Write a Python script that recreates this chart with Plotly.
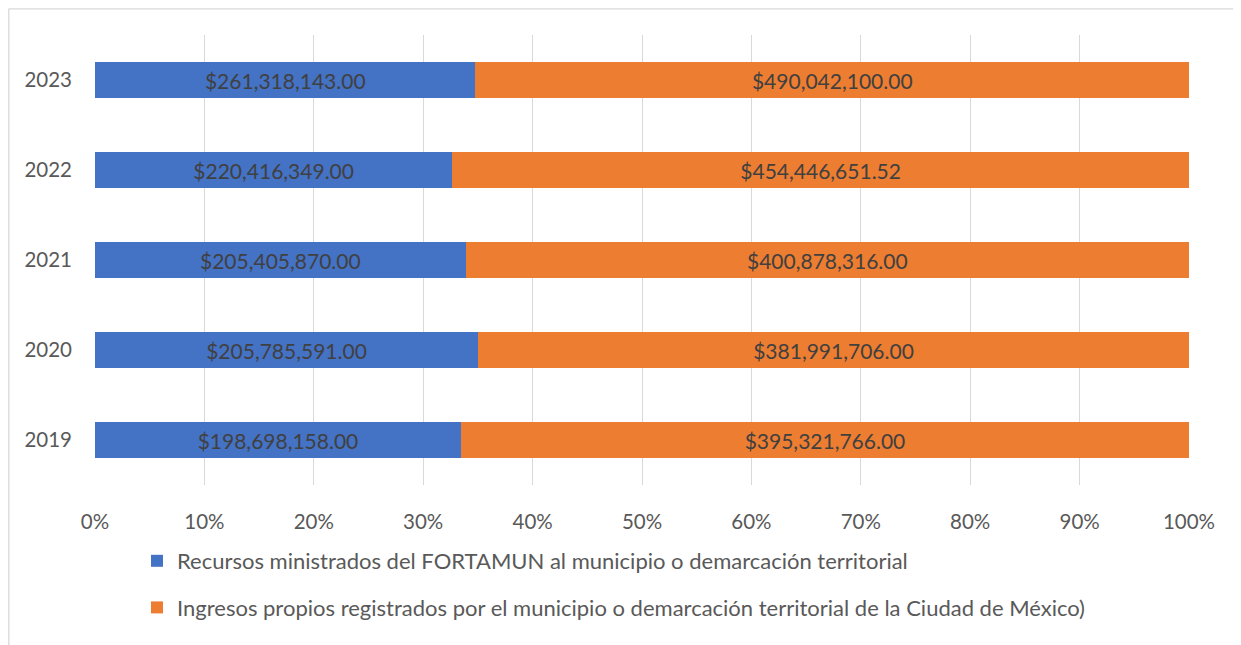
import plotly.graph_objects as go

years = ["2019", "2020", "2021", "2022", "2023"]
fortamun = [198698158.00, 205785591.00, 205405870.00, 220416349.00, 261318143.00]
propios = [395321766.00, 381991706.00, 400878316.00, 454446651.52, 490042100.00]
series_names = [
    "Recursos ministrados del FORTAMUN al municipio o demarcación territorial",
    "Ingresos propios registrados por el municipio o demarcación territorial de la Ciudad de México)",
]
tick_vals = [0, 10, 20, 30, 40, 50, 60, 70, 80, 90, 100]
tick_text = [f"{v}%" for v in tick_vals]

FONT = "Lato, Open Sans, sans-serif"

def money(v):
    return f"${v:,.2f}"

fig = go.Figure()
fig.add_trace(go.Bar(
    y=years, x=fortamun, orientation="h", name=series_names[0],
    marker=dict(color="#4472C4", line=dict(width=0)),
    text=[money(v) for v in fortamun], textposition="inside",
    insidetextanchor="middle", textangle=0,
    textfont=dict(color="#404040", size=21, family=FONT),
    legendgroup="a",
))
fig.add_trace(go.Bar(
    y=years, x=propios, orientation="h", name=series_names[1],
    marker=dict(color="#ED7D31", line=dict(width=0)),
    text=[money(v) for v in propios], textposition="inside",
    insidetextanchor="middle", textangle=0,
    textfont=dict(color="#404040", size=21, family=FONT),
    legendgroup="b",
))

OFF = 8  # page body margin
W, H = 1241 - OFF, 645 - OFF
# plot area in page coordinates: x 95..1189, y 35..485
ml, mt = 95 - OFF, 35 - OFF
mr, mb = W - (1189 - OFF), H - (485 - OFF)
pw, ph = W - ml - mr, H - mt - mb

def px_x(x):
    return (x - OFF - ml) / pw

def px_y(y):
    return (H - mb - (y - OFF)) / ph

border = dict(color="#D9D9D9", width=1.3)

fig.update_layout(
    width=W, height=H,
    barmode="stack", barnorm="percent", bargap=0.6,
    margin=dict(l=ml, r=mr, t=mt, b=mb),
    paper_bgcolor="white", plot_bgcolor="white",
    font=dict(family=FONT, color="#595959", size=20),
    uniformtext=dict(mode="show", minsize=10),
    xaxis=dict(range=[0, 100], tickvals=tick_vals, ticktext=tick_text,
               showgrid=True, gridcolor="#D9D9D9", gridwidth=1.3,
               zeroline=False, showline=False, ticks="", ticklabelstandoff=22,
               tickfont=dict(size=20.5, color="#595959", family=FONT), fixedrange=True),
    yaxis=dict(type="category", categoryorder="array", categoryarray=years,
               showgrid=False, zeroline=False, showline=False, ticks="",
               ticklabelstandoff=22,
               tickfont=dict(size=20.5, color="#595959", family=FONT)),
    legend=dict(x=px_x(137), y=px_y(540), xanchor="left", yanchor="top",
                itemwidth=30, traceorder="grouped", tracegroupgap=15,
                orientation="v",
                font=dict(size=22, color="#595959", family=FONT),
                bgcolor="rgba(0,0,0,0)"),
    showlegend=True,
    shapes=[
        dict(type="line", xref="paper", yref="paper",
             x0=px_x(8.8), x1=px_x(1250), y0=px_y(8.8), y1=px_y(8.8),
             line=border, layer="below"),
        dict(type="line", xref="paper", yref="paper",
             x0=px_x(8.8), x1=px_x(8.8), y0=px_y(8.8), y1=px_y(660),
             line=border, layer="below"),
    ],
)

fig.write_html("out.html")
